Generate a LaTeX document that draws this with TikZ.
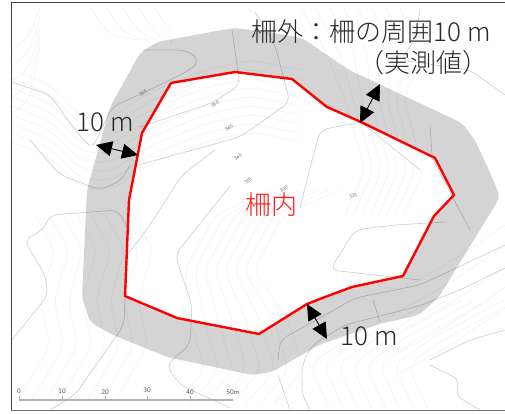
\documentclass[tikz,border=0pt]{standalone}
\usepackage{fontspec}
\newfontfamily\jp{Noto Sans CJK JP Light}
\usetikzlibrary{arrows.meta}
\definecolor{major}{RGB}{205,205,205}
\definecolor{minor}{RGB}{243,243,243}
\definecolor{ink}{RGB}{40,40,40}
\tikzset{
 cmajor/.style={draw=major,line width=.6pt,rounded corners=8pt},
 cminor/.style={draw=minor,line width=.6pt,rounded corners=10pt},
 dim/.style={draw=black,line width=.9pt,{Triangle[length=16pt,width=15pt]}-{Triangle[length=16pt,width=15pt]}},
 lab/.style={font=\jp\fontsize{26}{29}\selectfont,text=ink,inner sep=0pt},
 tiny/.style={font=\sffamily\fontsize{5}{5}\selectfont,text=black!60,inner sep=0pt},
 sc/.style={font=\sffamily\fontsize{7}{7}\selectfont,text=black!65,inner sep=0pt}
}
\begin{document}
\begin{tikzpicture}[x=1pt,y=-1pt]
\useasboundingbox (0,0) rectangle (505,414);
\fill[white] (0,0) rectangle (505,414);
% faint contours
\foreach \d in {0,9,...,72}{
 \draw[cminor] (12,{70+\d}) -- (50,{85+\d}) -- (80,{115+\d}) -- (110,{118+\d}) -- (150,{92+\d}) -- (205,{70+\d}) -- (250,{60+\d}) -- (300,{70+\d});
}
\foreach \d in {0,14,...,98}{
 \draw[cminor] ({300+\d},6) -- ({325+\d},50) -- ({345+\d*.6},100) -- ({365+\d*.6},170) -- ({345+\d*.6},215);
 \draw[cminor] ({15+\d},405) -- ({50+\d},345) -- ({40+\d},300) -- ({55+\d},250) -- ({35+\d},215);
 \draw[cminor] ({175+\d},405) -- ({205+\d},370) -- ({190+\d},320) -- ({185+\d*.7},270) -- ({215+\d*.7},215) -- ({270+\d*.7},190);
 \draw[cminor] ({330+\d},410) -- ({310+\d},365) -- ({345+\d},340) -- ({420+\d},300);
}
\foreach \d in {0,16,...,64}{
 \draw[cminor] (40,{8+\d*.6}) -- (30,{35+\d}) -- (12,{50+\d});
 \draw[cminor] ({90+\d},8) -- ({110+\d},35) -- ({140+\d*.5},40);
 \draw[cminor] (505,{225+\d*1.3}) -- (450,{262+\d*1.3}) -- (400,{290+\d*1.3});
}
% darker contours
\draw[cmajor] (12,82) -- (50,95) -- (75,130) -- (92,149) -- (112,107) -- (143,93) -- (190,70) -- (200,60) -- (186,50) -- (143,50);
\draw[cmajor] (140,127) -- (212,103) -- (240,85) -- (232,30);
\draw[cmajor] (138,165) -- (240,137) -- (290,102) -- (275,45) -- (255,12);
\draw[cmajor] (30,140) -- (60,175) -- (100,190) -- (122,180) -- (130,165);
\draw[cmajor] (130,232) -- (118,210) -- (50,215) -- (43,230) -- (24,240) -- (45,275) -- (48,295) -- (12,340);
\draw[cmajor] (125,296) -- (124,325) -- (110,345) -- (75,395) -- (50,410);
\draw[cmajor] (230,186) -- (175,255) -- (192,305) -- (190,345) -- (166,365) -- (180,385) -- (230,408);
\draw[cmajor] (125,258) -- (150,225) -- (182,175) -- (215,150);
\draw[cmajor] (300,207) -- (320,130) -- (361,122);
\draw[cmajor] (361,122) -- (420,170);
\draw[cmajor] (420,280) -- (330,270) -- (355,230) -- (395,225) -- (445,222);
\draw[cmajor] (505,245) -- (420,285) -- (355,298) -- (320,318) -- (280,340) -- (278,360);
\draw[cmajor] (505,268) -- (460,290) -- (419,306) -- (345,325) -- (312,345) -- (302,365) -- (302,395) -- (310,410);
\draw[cmajor] (373,300) -- (380,322);
\draw[cmajor] (430,360) -- (470,340) -- (505,330);
\draw[cmajor] (430,365) -- (460,380) -- (455,395) -- (480,410);
\draw[cmajor] (278,375) -- (290,410);
\draw[cmajor] (430,125) -- (432,158) -- (470,230);
\draw[cmajor] (420,10) -- (415,40) -- (400,60) -- (470,70) -- (505,95);
% zone: translucent band round the fence
\fill[black,opacity=.17,even odd rule]
 [rounded corners=6pt] (140,53) -- (157,42) -- (233,28) -- (262,31) -- (302,38) -- (349,70) -- (462,123) -- (475,140) -- (492,177) -- (500,197) -- (494,207) -- (459,264) -- (439,297) -- (419,315) -- (379,324) -- (319,345) -- (272,372) -- (252,375) -- (167,357) -- (113,335) -- (90,322) -- (82,297) -- (87,190) -- (110,107) -- cycle
 [sharp corners] (171,83) -- (235,72) -- (292,79) -- (327,107) -- (361,122) -- (435,158) -- (454,195) -- (434,216) -- (403,276) -- (352,287) -- (325,297) -- (307,304) -- (259,334) -- (177,318) -- (125,296) -- (129,200) -- (142,133) -- cycle;
% contour labels
\node[tiny,rotate=30] (l355) at (143,93) {355};
\node[tiny,rotate=25] (l350) at (215,104) {350};
\node[tiny,rotate=35] (l345) at (229,128) {345};
\node[tiny,rotate=30] (l340) at (238,157) {340};
\node[tiny,rotate=40] (l335) at (248,181) {335};
\node[tiny,rotate=30] (l330) at (284,189) {330};
\node[tiny,rotate=20] (l325) at (353,196) {325};
% fence
\draw[red,line width=2.4pt,line join=round] (171,83) -- (235,72) -- (292,79) -- (327,107) -- (361,122) -- (435,158) -- (454,195) -- (434,216) -- (403,276) -- (352,287) -- (325,297) -- (307,304) -- (259,334) -- (177,318) -- (125,296) -- (129,200) -- (142,133) -- cycle;
% dimension arrows
\coordinate (a1) at (96,145); \coordinate (a2) at (138,155);
\coordinate (b1) at (380,84); \coordinate (b2) at (360,123);
\coordinate (c1) at (307,304); \coordinate (c2) at (327,339);
\draw[dim] (a1) -- (a2);
\draw[dim] (b1) -- (b2);
\draw[dim] (c1) -- (c2);
% labels
\node[lab] (t1) at (105,122) {10 m};
\node[lab] (t2) at (369,336) {10 m};
\node[lab,anchor=east] (t3) at (491,32) {柵外：柵の周囲10 m};
\node[lab,anchor=east] (t4) at (489,63) {（実測値）};
\node[lab,text=red!90!white] (t5) at (271,205) {柵内};
% scale bar
\draw[draw=black!30,line width=1.2pt] (19,400) -- (233,400);
\foreach \x/\l/\y in {19/0/391,62/10/391,105/20/392,147/30/390,190/40/392}{
 \draw[draw=black!30,line width=.5pt] (\x,400) -- (\x,396);
 \node[sc] at (\x,\y) {\l};
}
\node[sc] (s50) at (233,392) {50m};
% frame
\draw[draw=black!75,line width=1pt] (505,3) -- (11.5,3) -- (11.5,410);
\draw[draw=black!55,line width=1.6pt] (11,410.5) -- (505,410.5);
\end{tikzpicture}
\end{document}
